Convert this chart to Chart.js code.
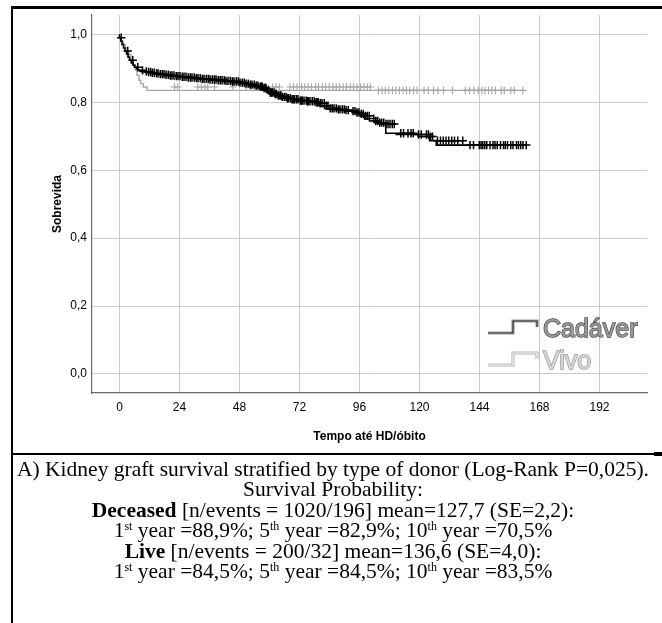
<!DOCTYPE html>
<html>
<head>
<meta charset="utf-8">
<script src="https://cdn.jsdelivr.net/npm/chart.js@4.4.0/dist/chart.umd.min.js"></script>
<style>
body { margin: 0; background: #fff; }
#page { position: relative; width: 662px; height: 623px; overflow: hidden; }
#frameTop { position: absolute; left: 11px; top: 6px; width: 651px; height: 3px; background: #000; }
#frameLeft { position: absolute; left: 11px; top: 6px; width: 2px; height: 617px; background: #000; }
#sep { position: absolute; left: 11px; top: 453px; width: 643px; height: 2px; background: #000; }
#sepEnd { position: absolute; left: 654px; top: 452px; width: 8px; height: 4px; background: #000; }
#chartBox { position: absolute; left: 0; top: 0; width: 662px; height: 452px; }
#caption {
    position: absolute; left: 11px; top: 459px; width: 644px; text-align: center;
    font-family: 'Liberation Serif', 'Times New Roman', serif; font-size: 21.5px; line-height: 20.4px; color: #000;
}
#caption sup { font-size: 12px; line-height: 0; vertical-align: 7px; }
</style>
</head>
<body>
<div id="page">
  <div id="chartBox"><canvas id="kmChart" width="662" height="452"></canvas></div>
  <div id="frameTop"></div>
  <div id="frameLeft"></div>
  <div id="sep"></div>
  <div id="sepEnd"></div>
  <div id="caption">
    A) Kidney graft survival stratified by type of donor (Log-Rank P=0,025).<br>
    Survival Probability:<br>
    <b>Deceased</b> [n/events = 1020/196] mean=127,7 (SE=2,2):<br>
    1<sup>st</sup> year =88,9%; 5<sup>th</sup> year =82,9%; 10<sup>th</sup> year =70,5%<br>
    <b>Live</b> [n/events = 200/32] mean=136,6 (SE=4,0):<br>
    1<sup>st</sup> year =84,5%; 5<sup>th</sup> year =84,5%; 10<sup>th</sup> year =83,5%
  </div>
</div>
<script>
// axis ticks
var xTicks = [0, 24, 48, 72, 96, 120, 144, 168, 192];
var yTicks = [0, 0.2, 0.4, 0.6, 0.8, 1.0];

var legendNames = ['Cadáver', 'Vivo'];

// Cadáver (deceased donor) - survival steps
var cadTime = [0, 0.5, 1, 1.6, 2.2, 2.8, 3.4, 4, 4.7, 5.4, 6.1, 6.8, 7.5, 8.3, 9.5, 11, 12.5, 14, 16, 18, 20, 22.5, 25, 27.5, 30, 33, 36, 39, 42, 45, 48, 50, 52, 54, 56, 57.5, 59, 60, 62, 63.5, 65, 67, 69, 72, 75, 78, 80, 82, 84, 87, 90, 93, 95, 96.5, 98, 100, 102, 104, 106.5, 110.7, 119.5, 124, 126.7, 138.7, 163];
var cadSurv = [1.0, 0.99, 0.98, 0.97, 0.96, 0.951, 0.942, 0.933, 0.924, 0.916, 0.909, 0.903, 0.898, 0.894, 0.891, 0.889, 0.887, 0.885, 0.883, 0.881, 0.879, 0.877, 0.875, 0.873, 0.871, 0.869, 0.867, 0.865, 0.863, 0.861, 0.858, 0.855, 0.852, 0.849, 0.846, 0.842, 0.836, 0.829, 0.824, 0.82, 0.816, 0.812, 0.809, 0.805, 0.803, 0.8, 0.797, 0.79, 0.782, 0.779, 0.777, 0.774, 0.77, 0.766, 0.76, 0.752, 0.745, 0.74, 0.736, 0.709, 0.705, 0.699, 0.687, 0.674, 0.674];
var cadCensor = [0.7, 3.3, 5.3, 7.3, 9.2, 10.7, 11.6, 12.4, 13.1, 13.9, 14.8, 15.4, 16.3, 17.1, 17.8, 18.6, 19.5, 20.3, 21.0, 21.8, 22.7, 23.4, 24.2, 25.1, 25.8, 26.6, 27.5, 28.3, 29.0, 29.9, 30.7, 31.4, 32.3, 33.1, 33.8, 34.7, 35.5, 36.2, 37.1, 37.9, 38.6, 39.5, 40.3, 41.0, 41.9, 42.6, 43.4, 44.3, 45.1, 45.8, 46.7, 47.5, 48.2, 49.1, 49.9, 50.6, 51.5, 52.3, 53.0, 53.9, 54.7, 55.4, 56.3, 56.8, 57.1, 57.8, 58.2, 58.6, 59.5, 60.3, 60.7, 61.1, 61.8, 62.3, 62.7, 63.5, 64.2, 64.6, 65.1, 65.9, 66.6, 67.1, 67.5, 68.3, 69.0, 69.5, 69.9, 70.7, 71.4, 72.3, 72.8, 73.1, 73.8, 74.7, 75.1, 75.5, 76.2, 77.1, 77.9, 78.6, 79.1, 79.5, 80.3, 81.0, 81.9, 82.7, 83.4, 84.3, 85.1, 85.8, 86.7, 87.5, 88.2, 89.1, 89.9, 90.6, 91.5, 93.4, 94.2, 95.0, 95.8, 96.7, 97.5, 98.3, 99.1, 99.9, 101.7, 102.5, 103.3, 104.1, 104.9, 105.7, 106.6, 107.4, 108.2, 109.1, 109.9, 112.5, 113.6, 115.4, 116.6, 117.5, 119.6, 120.7, 122.8, 123.6, 124.4, 125.2, 127.2, 128.4, 129.5, 130.6, 131.7, 132.9, 134.0, 135.3, 137.3, 140.2, 141.6, 143.9, 144.6, 145.3, 146.1, 146.9, 148.2, 149.4, 150.2, 151.1, 152.4, 153.6, 154.3, 155.2, 156.5, 157.4, 158.8, 159.6, 160.5, 161.4, 162.7];

// Vivo (live donor)
var vivoTime = [0, 0.7, 1.5, 2.3, 3, 3.8, 4.6, 5.5, 6.3, 7, 7.8, 8.5, 9.5, 11, 102.5, 162];
var vivoSurv = [1.0, 0.99, 0.98, 0.97, 0.96, 0.95, 0.94, 0.925, 0.91, 0.895, 0.88, 0.865, 0.855, 0.845, 0.835, 0.835];
var vivoCensor = [22.0, 23.3, 31.3, 32.8, 34.2, 35.3, 38.0, 45.3, 50.7, 52.5, 54.2, 56.0, 61.3, 62.6, 64.0, 68.2, 69.6, 71.0, 72.8, 74.1, 75.5, 76.8, 78.4, 79.6, 81.2, 82.5, 83.9, 85.4, 86.7, 88.0, 89.5, 90.8, 92.3, 93.6, 95.0, 96.5, 97.8, 99.2, 100.4, 103.6, 105.0, 106.3, 107.7, 109.2, 110.5, 112.0, 113.4, 114.8, 116.1, 117.6, 119.0, 121.8, 123.5, 125.6, 127.4, 129.6, 133.2, 138.3, 140.0, 141.8, 143.5, 145.0, 146.2, 147.6, 148.9, 150.4, 152.7, 153.9, 156.5, 157.9, 161.3];

// SPSS uses a narrow sans; fall back to plain Liberation Sans if it is missing
function hasFont(name) {
    var c = document.createElement('canvas').getContext('2d');
    var s = 'Tempo até HD/óbito 0123456789';
    c.font = '40px monospace';
    var w1 = c.measureText(s).width;
    c.font = '40px "' + name + '", monospace';
    return Math.abs(c.measureText(s).width - w1) > 0.5;
}
var narrow = hasFont('Liberation Sans Narrow');
var sansFont = narrow ? "'Liberation Sans Narrow', sans-serif" : "'Liberation Sans', Arial, sans-serif";
var tickSize = narrow ? 13.5 : 12;
var titleSize = narrow ? 14 : 12;
var legendFont = "'Liberation Sans', Arial, sans-serif";

function stepValue(times, survs, t) {
    var v = survs[0];
    for (var i = 0; i < times.length; i++) {
        if (times[i] <= t) { v = survs[i] }
    }
    return v;
}

function toPoints(times, survs) {
    var pts = [];
    for (var i = 0; i < times.length; i++) {
        pts.push({x: times[i], y: survs[i]});
    }
    return pts;
}

function censorPoints(censor, times, survs) {
    var pts = [];
    for (var i = 0; i < censor.length; i++) {
        pts.push({x: censor[i], y: stepValue(times, survs, censor[i])});
    }
    return pts;
}

// little step icons + labels, drawn inside the plot (lower right)
var kmLegend = {
    id: 'kmLegend',
    afterDraw: function(chart) {
        var ctx = chart.ctx;
        var a = chart.chartArea;
        var styles = [
            {outer: '#9c9c9c', inner: '#3a3a3a', textFill: '#9a9a9a', textStroke: '#505050'},
            {outer: '#b8b8b8', inner: '#f4f4f4', textFill: '#d8d8d8', textStroke: '#9a9a9a'}
        ];
        ctx.save();
        for (var i = 0; i < legendNames.length; i++) {
            var y = a.bottom - 63 + i * 32;
            var x0 = a.right - 159;
            var passes = [[3.2, styles[i].outer], [1.2, styles[i].inner]];
            for (var p = 0; p < passes.length; p++) {
                ctx.beginPath();
                ctx.moveTo(x0, y + 3);
                ctx.lineTo(x0 + 25, y + 3);
                ctx.lineTo(x0 + 25, y - 9);
                ctx.lineTo(x0 + 49, y - 9);
                ctx.lineTo(x0 + 49, y - 3);
                ctx.lineWidth = passes[p][0];
                ctx.strokeStyle = passes[p][1];
                ctx.stroke();
            }
            ctx.font = '25px ' + legendFont;
            ctx.textBaseline = 'middle';
            ctx.textAlign = 'left';
            ctx.lineWidth = 1.4;
            ctx.strokeStyle = styles[i].textStroke;
            ctx.strokeText(legendNames[i], x0 + 55, y);
            ctx.fillStyle = styles[i].textFill;
            ctx.fillText(legendNames[i], x0 + 55, y);
        }
        ctx.restore();
    }
};

myChart = new Chart(document.getElementById('kmChart'), {
    type: 'scatter',
    data: {
        datasets: [
            {
                label: 'Cadáver censor',
                data: censorPoints(cadCensor, cadTime, cadSurv),
                pointStyle: 'cross',
                pointRadius: 4.2,
                borderColor: '#000',
                borderWidth: 1.5,
                showLine: false
            },
            {
                label: 'Cadáver',
                data: toPoints(cadTime, cadSurv),
                showLine: true,
                stepped: 'after',
                borderColor: '#000',
                borderWidth: 1.6,
                pointRadius: 0,
                fill: false
            },
            {
                label: 'Vivo censor',
                data: censorPoints(vivoCensor, vivoTime, vivoSurv),
                pointStyle: 'cross',
                pointRadius: 3.8,
                borderColor: '#a6a6a6',
                borderWidth: 1.1,
                showLine: false
            },
            {
                label: 'Vivo',
                data: toPoints(vivoTime, vivoSurv),
                showLine: true,
                stepped: 'after',
                borderColor: '#a8a8a8',
                borderWidth: 1.4,
                pointRadius: 0,
                fill: false
            }
        ]
    },
    options: {
        responsive: false,
        animation: false,
        events: [],
        layout: { padding: { left: 0, right: 15, top: 15, bottom: 0 } },
        plugins: {
            legend: { display: false },
            tooltip: { enabled: false }
        },
        scales: {
            x: {
                type: 'linear',
                min: -11,
                max: 211,
                afterBuildTicks: function(s) { s.ticks = xTicks.map(function(v) { return {value: v} }) },
                afterFit: function(s) { s.height = 59 },
                grid: { color: '#cbcbcb', lineWidth: 1, drawTicks: false },
                border: { color: '#6a6a6a', width: 1.2 },
                ticks: {
                    padding: 7,
                    color: '#000',
                    maxRotation: 0,
                    autoSkip: false,
                    font: { family: sansFont, size: tickSize }
                },
                title: {
                    display: true,
                    text: 'Tempo até HD/óbito',
                    color: '#000',
                    font: { family: sansFont, size: titleSize, weight: 'bold' },
                    padding: { top: 0, bottom: 8 }
                }
            },
            y: {
                type: 'linear',
                min: -0.056,
                max: 1.057,
                afterBuildTicks: function(s) { s.ticks = yTicks.map(function(v) { return {value: v} }) },
                afterFit: function(s) { s.width = 92 },
                grid: { color: '#cbcbcb', lineWidth: 1, drawTicks: false },
                border: { color: '#6a6a6a', width: 1.2 },
                ticks: {
                    padding: 5,
                    color: '#000',
                    font: { family: sansFont, size: tickSize },
                    callback: function(v) { return v.toFixed(1).replace('.', ',') }
                },
                title: {
                    display: true,
                    text: 'Sobrevida',
                    color: '#000',
                    font: { family: sansFont, size: titleSize, weight: 'bold' },
                    padding: { top: 50, bottom: 0 }
                }
            }
        }
    },
    plugins: [kmLegend]
});
</script>
</body>
</html>
